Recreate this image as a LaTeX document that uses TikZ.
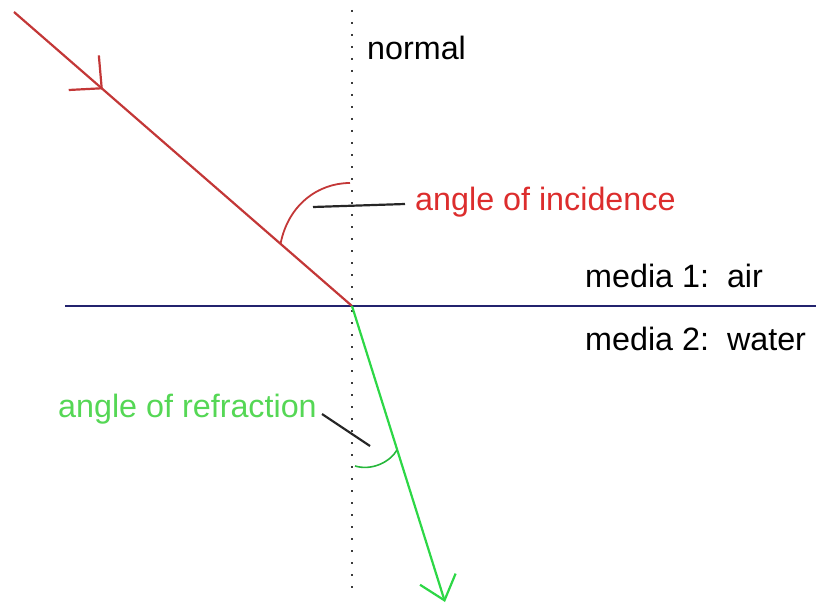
\documentclass[tikz,border=0pt]{standalone}
\usepackage{fontspec}
\setmainfont{Liberation Sans}
\usetikzlibrary{arrows.meta,decorations.markings}
\definecolor{rayred}{RGB}{195,55,55}
\definecolor{txtred}{RGB}{220,45,45}
\definecolor{raygreen}{RGB}{45,215,70}
\definecolor{txtgreen}{RGB}{85,215,85}
\definecolor{navy}{RGB}{35,35,110}
\definecolor{dotgray}{RGB}{60,60,60}
\begin{document}
\begin{tikzpicture}[x=1pt,y=-1pt,
  lbl/.style={anchor=base west,inner sep=0pt,font=\fontsize{32.3}{37}\selectfont},
  leader/.style={draw=black!85,line width=2.2pt},
  ray/.style={line width=2.2pt}]
\useasboundingbox (0,0) rectangle (816,607);
% coordinates
\coordinate (ntop) at (352,10);
\coordinate (nbot) at (352,596);
\coordinate (sL) at (65,306);
\coordinate (sR) at (816,306);
\coordinate (src) at (14,12);
\coordinate (O) at (352,306);
\coordinate (tip) at (445,602);
\coordinate (ai1) at (280.5,244);
\coordinate (ai2) at (350,183);
\coordinate (ar1) at (355,466);
\coordinate (ar2) at (397,450);
\coordinate (li1) at (313,207);
\coordinate (li2) at (405,204);
\coordinate (lr1) at (322,414);
\coordinate (lr2) at (370,446);
% normal
\draw[dotgray,line width=1.8pt,dash pattern=on 1.8pt off 10.2pt] (ntop) -- (nbot);
% surface
\draw[navy,line width=2.4pt] (sL) -- (sR);
% incident ray
\draw[rayred,ray,postaction={decorate},
  decoration={markings,mark=at position 0.263 with {\arrow[rayred,line width=2.2pt]{Straight Barb[angle=88:33pt]}}}]
  (src) -- (O);
% refracted ray
\draw[raygreen,ray,-{Straight Barb[angle=80:29pt]}] (O) -- (tip);
% angle arcs
\draw[rayred,line width=1.8pt] (ai1) .. controls (288,205) and (318,183) .. (ai2);
\draw[raygreen!85!black,line width=1.6pt] (ar1) .. controls (372,471) and (390,462) .. (ar2);
% leaders
\draw[leader] (li1) -- (li2);
\draw[leader] (lr1) -- (lr2);
% labels
\node[lbl] (normal) at (367,60) {normal};
\node[lbl,text=txtred] (inc) at (415,210) {angle of incidence};
\node[lbl] (m1) at (585,287) {media 1:\ \ air};
\node[lbl] (m2) at (585,350) {media 2:\ \ water};
\node[lbl,text=txtgreen] (refr) at (58,417) {angle of refraction};
\end{tikzpicture}
\end{document}
